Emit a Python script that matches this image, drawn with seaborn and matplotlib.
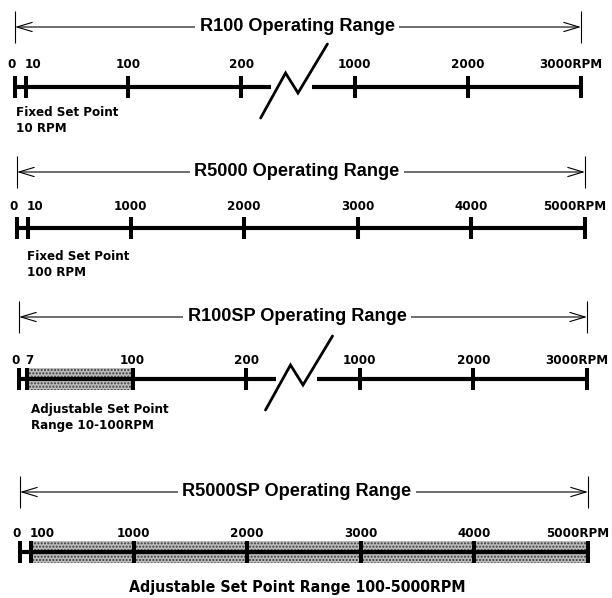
import numpy as np
import pandas as pd
import seaborn as sns
import matplotlib.pyplot as plt
from matplotlib import transforms, font_manager

# Data: operating ranges (RPM)
names = ['R100', 'R5000', 'R100SP', 'R5000SP']
r100_ticks = [0, 10, 100, 200, 1000, 2000, 3000]
r5000_ticks = [0, 10, 1000, 2000, 3000, 4000, 5000]
r100sp_ticks = [0, 7, 100, 200, 1000, 2000, 3000]
r5000sp_ticks = [0, 100, 1000, 2000, 3000, 4000, 5000]
r100sp_band = [7, 100]
r5000sp_band = [100, 5000]
notes = ['Fixed Set Point\n10 RPM',
         'Fixed Set Point\n100 RPM',
         'Adjustable Set Point\nRange 10-100RPM',
         'Adjustable Set Point Range 100-5000RPM']

# schematic (broken) scales: rpm knots -> drawing units
broken_scale = ([0, 200, 1000, 3000], [0, 2, 3, 5])
r5000_scale = ([0, 10, 1000, 5000], [0, 0.1, 1, 5])
linear_scale = ([0, 5000], [0, 5])

sns.set_theme(style='white')
plt.rcParams['text.color'] = 'black'
plt.rcParams['hatch.linewidth'] = 1.0
plt.rcParams['hatch.color'] = '#3a3a3a'

# most condensed bold face available for the small labels
rank = {'ultra-condensed': 0, 'extra-condensed': 1, 'condensed': 2, 'semi-condensed': 3}
best = None
for f in font_manager.fontManager.ttflist:
    r = rank.get(str(f.stretch), 9)
    if 'ExtraCondensed' in f.name or 'Extra Condensed' in f.name:
        r = min(r, 1)
    elif 'Condensed' in f.name or 'Narrow' in f.name:
        r = min(r, 2 if 'Semi' not in f.name else 3)
    if r == 9 or f.name.split()[0] not in ('Liberation', 'DejaVu', 'Roboto', 'Open', 'Noto', 'Lato', 'Inter'):
        continue
    w = f.weight if isinstance(f.weight, int) else (700 if 'bold' in str(f.weight) else 400)
    key = (r, abs(w - 700))
    if best is None or key < best[0]:
        best = (key, f.name, str(f.stretch))
if best:
    label_font, label_stretch = [best[1], 'DejaVu Sans'], best[2]
else:
    label_font, label_stretch = ['Liberation Sans', 'DejaVu Sans'], 'normal'
title_font = ['Liberation Sans', 'DejaVu Sans']
plt.rcParams['font.family'] = label_font

W, H = 612, 598
fig = plt.figure(figsize=(W / 100, H / 100), dpi=100)
fig.patch.set_facecolor('white')


def fit_size(text, width_px, cap, family, stretch='normal'):
    # font size that gives the reference width, not above cap
    renderer = fig.canvas.get_renderer()
    probe = fig.text(0, 0, text, fontsize=10, fontweight='bold', family=family, fontstretch=stretch)
    size = 10 * width_px / probe.get_window_extent(renderer).width
    probe.remove()
    return min(cap, size)


label_size = fit_size('3000RPM', 63, 11.5, label_font, label_stretch)
bottom_size = fit_size(notes[3], 335, 12.5, label_font, label_stretch)
title_size = fit_size('R100 Operating Range', 195, 13.5, title_font)

# layout in pixels: left, right, axis y, arrow y, label baseline, note dx, note top
rows = [
    (r100_ticks, broken_scale, None, True, (15, 581, 87, 27, 19, 1, -19)),
    (r5000_ticks, r5000_scale, None, False, (17, 585, 228, 172, 18, 10, -22)),
    (r100sp_ticks, broken_scale, r100sp_band, True, (19, 587, 379, 317, 15, 12, -24)),
    (r5000sp_ticks, linear_scale, r5000sp_band, False, (20, 588, 552, 492, 15, 0, -40)),
]

# break symbol as fractions of the 200..1000 gap
brk_line = [0.26, 0.62]
brk_x = [0.17, 0.39, 0.50, 0.76]
brk_y = [-31, 14, -6, 43]

lab_kw = dict(fontsize=label_size, fontweight='bold', family=label_font, fontstretch=label_stretch)

for name, note, (ticks, scale, band, broken, lay) in zip(names, notes, rows):
    left, right, ay, arr_px, base, ndx, ntop = lay
    arr = ay - arr_px
    ax = fig.add_axes([left / W, (H - (ay + 70)) / H, (right - left) / W, 155 / H])
    rk, uk = scale
    ax.set_xscale('function', functions=(lambda x, rk=rk, uk=uk: np.interp(x, rk, uk),
                                         lambda u, rk=rk, uk=uk: np.interp(u, uk, rk)))
    blend = transforms.blended_transform_factory(fig.transFigure, ax.transData)

    # main scale line
    if broken:
        lo = 200 + brk_line[0] * 800
        hi = 200 + brk_line[1] * 800
        seg = pd.DataFrame({'rpm': [0, lo, hi, ticks[-1]], 'y': [0, 0, 0, 0], 'seg': [0, 0, 1, 1]})
    else:
        seg = pd.DataFrame({'rpm': [0, ticks[-1]], 'y': [0, 0], 'seg': [0, 0]})
    sns.lineplot(data=seg, x='rpm', y='y', units='seg', estimator=None, color='black',
                 lw=3.0, ax=ax, solid_capstyle='butt', zorder=3)
    ax.set_xlim(ticks[0], ticks[-1])
    ax.set_ylim(-70, 85)
    ax.axis('off')

    if broken:
        ax.plot([200 + f * 800 for f in brk_x], brk_y, color='black', lw=2.0,
                solid_joinstyle='miter', clip_on=False)

    if band is not None:
        ax.fill_between(band, -11, 11, facecolor='#bcbcbc', edgecolor='#3a3a3a',
                        hatch='.....', linewidth=0, zorder=1)

    ax.vlines(ticks, -11, 11, color='black', lw=2.9, capstyle='butt', zorder=4, clip_on=False)

    # tick labels
    for i, t in enumerate(ticks):
        lab = str(t) + ('RPM' if i == len(ticks) - 1 else '')
        if i == 0:
            ha, dx = 'center', -3
        elif i == 1:
            ha, dx = 'left', -2
        elif i == len(ticks) - 1:
            ha, dx = 'right', 21
        else:
            ha, dx = 'center', 0
        ax.annotate(lab, xy=(t, base), xytext=(dx, 0), textcoords='offset pixels',
                    ha=ha, va='baseline', annotation_clip=False, **lab_kw)

    # operating range arrow
    ax.annotate('', xy=(ticks[-1], arr), xytext=(0, arr), annotation_clip=False,
                arrowprops=dict(arrowstyle='<->,head_length=1.1,head_width=0.33', lw=0.8,
                                color='black', shrinkA=0, shrinkB=0, mutation_scale=10),
                zorder=2)
    ax.vlines([0, ticks[-1]], arr - 16, arr + 16, color='black', lw=0.8, clip_on=False)
    ax.text(297 / W, arr - 4, f'{name} Operating Range', transform=blend, ha='center',
            va='baseline', fontsize=title_size, fontweight='bold', family=title_font,
            bbox=dict(boxstyle='square,pad=0.25', fc='white', ec='none'), zorder=5)

    # set point note
    if name == 'R5000SP':
        ax.text(297 / W, ntop, note, transform=blend, ha='center', va='baseline',
                **{**lab_kw, 'fontsize': bottom_size})
    else:
        ax.annotate(note, xy=(0, ntop), xytext=(ndx, 0), textcoords='offset pixels',
                    ha='left', va='top', linespacing=1.3, annotation_clip=False, **lab_kw)

fig.savefig('out.png', dpi=100)
